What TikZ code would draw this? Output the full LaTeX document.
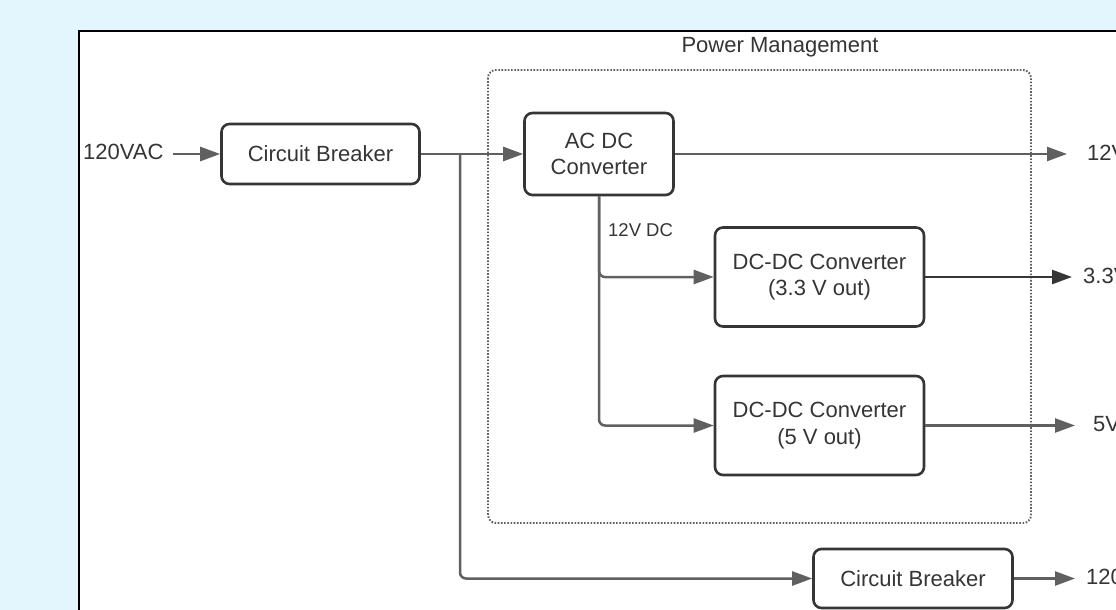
\documentclass[tikz,border=0pt]{standalone}
\usepackage{fontspec}
\setmainfont{Liberation Sans}
\usetikzlibrary{arrows.meta}
\definecolor{bgblue}{HTML}{E3F6FD}
\definecolor{linegray}{HTML}{606060}
\definecolor{boxgray}{HTML}{353535}
\definecolor{txtgray}{HTML}{353535}
\tikzset{
  blk/.style={draw=boxgray, line width=2.6pt, rounded corners=8pt, fill=white,
    text=txtgray, align=center, inner sep=0pt,
    font=\fontsize{22}{26.5}\selectfont},
  conn/.style={draw=linegray, line width=2.5pt, rounded corners=6pt,
    -{Triangle[length=20pt,width=14pt]}},
  plain/.style={draw=linegray, line width=2.5pt, rounded corners=6pt},
  lbl/.style={text=txtgray, inner sep=0pt, font=\fontsize{22}{26.5}\selectfont},
  small/.style={text=txtgray, inner sep=0pt, font=\fontsize{18.5}{22}\selectfont},
  grp/.style={draw=linegray, line width=1.9pt, dash pattern=on 1.6pt off 1.6pt, rounded corners=8pt}
}
\begin{document}
\begin{tikzpicture}[x=1pt,y=-1pt]
\useasboundingbox (0,0) rectangle (1116,610);
\clip (0,0) rectangle (1116,610);
\fill[bgblue] (0,0) rectangle (1116,610);
\draw[black, line width=2pt, fill=white] (79,31) rectangle (1140,640);

% group
\draw[grp] (488,70) rectangle (1031,523);
\node[lbl] (pm) at (780,47) {Power Management};

% blocks
\node[blk, minimum width=198pt, minimum height=60pt] (cb1) at (320.5,154) {Circuit Breaker};
\node[blk, minimum width=149pt, minimum height=82pt] (acdc) at (599,154) {AC DC\\Converter};
\node[blk, minimum width=209pt, minimum height=99pt] (dc33) at (819.5,277) {DC-DC Converter\\(3.3 V out)};
\node[blk, minimum width=209pt, minimum height=99pt] (dc5) at (819.5,425.5) {DC-DC Converter\\(5 V out)};
\node[blk, minimum width=199pt, minimum height=59pt] (cb2) at (913,578.5) {Circuit Breaker};

% input
\node[lbl, anchor=west] (in) at (83,152) {120VAC};
\draw[conn] (in.east) ++(9,2) coordinate (ins) -- (cb1.west);

% main bus
\coordinate (j) at (460,154);
\draw[plain] (cb1.east) -- (j);
\draw[conn] (j) -- (acdc.west);
\draw[conn] (j) |- (cb2.west);

% 12V DC branches
\draw[conn] (acdc.south) |- (dc33.west);
\draw[conn] (acdc.south) |- (dc5.west);
\node[small, anchor=west] (lab12) at (608,230) {12V DC};

% outputs
\coordinate (o12) at (1067,154);
\coordinate (o33) at (1072,277);
\coordinate (o5) at (1075,425.5);
\coordinate (o120) at (1075,578.5);
\draw[conn] (acdc.east) -- (o12);
\draw[conn, draw=boxgray] (dc33.east) -- (o33);
\draw[conn] (dc5.east) -- (o5);
\draw[conn] (cb2.east) -- (o120);
\node[lbl, anchor=west] (t12) at (1087,153) {12V};
\node[lbl, anchor=west] (t33) at (1083,276) {3.3V};
\node[lbl, anchor=west] (t5) at (1093,424) {5V};
\node[lbl, anchor=west] (t120) at (1086,577) {120};
\end{tikzpicture}
\end{document}
